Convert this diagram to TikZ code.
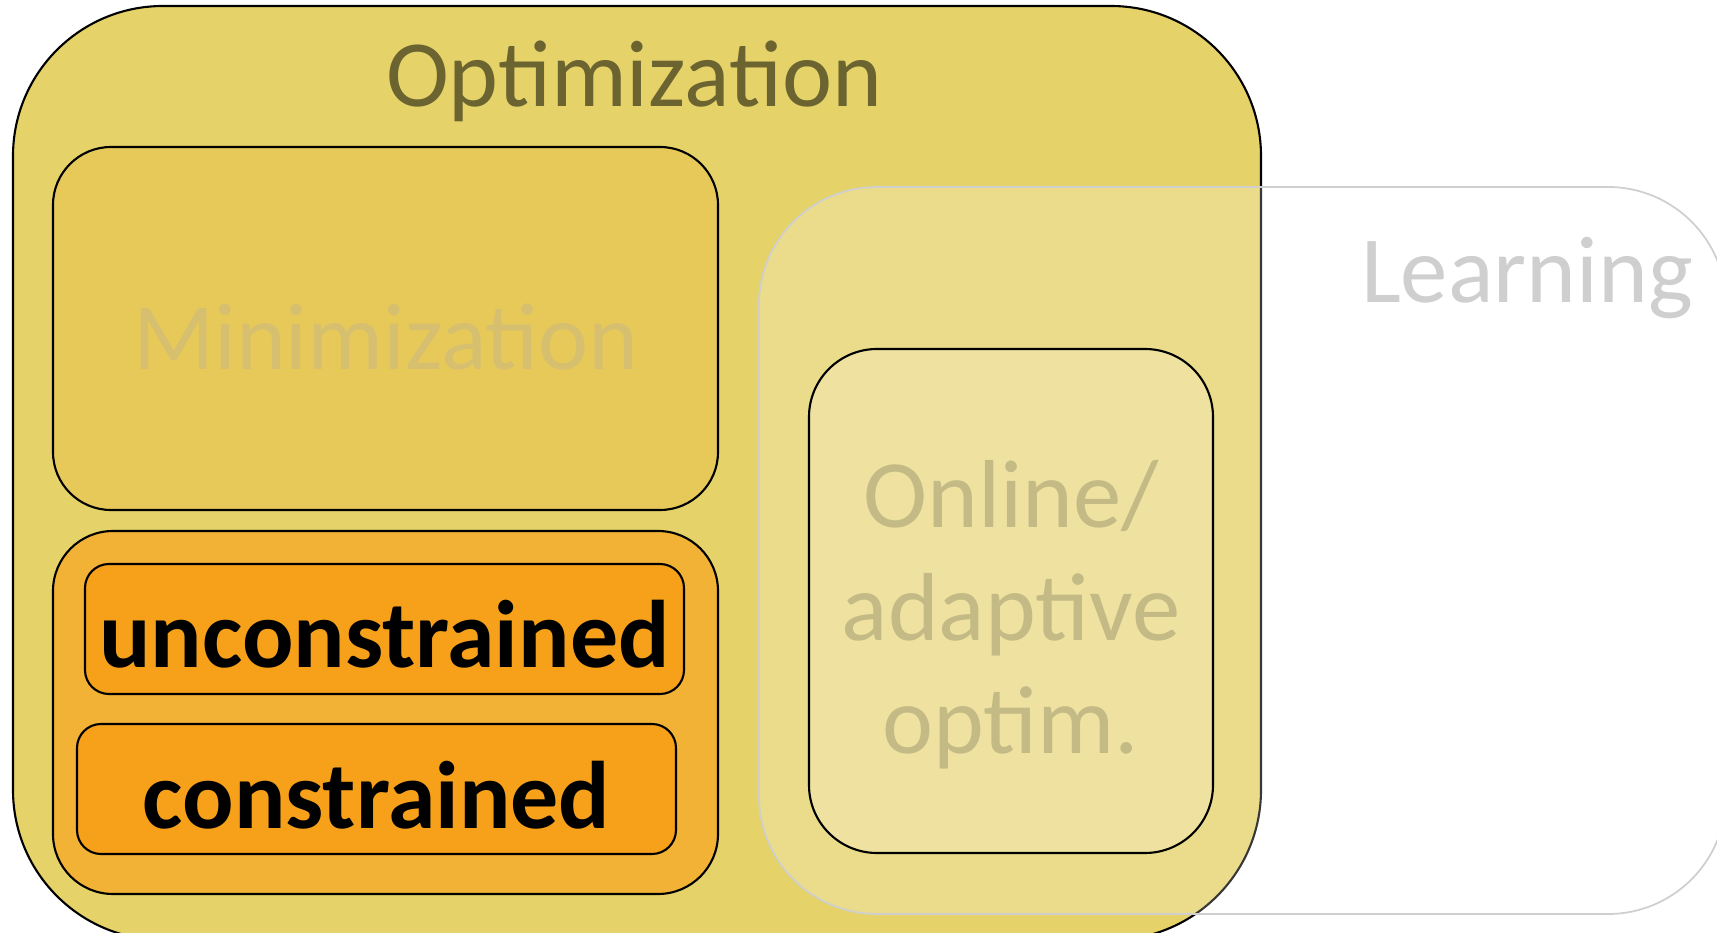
\documentclass[tikz,border=0pt]{standalone}
\usepackage{fontspec}
\setmainfont{Carlito}
\usepackage{tikz}
\usepackage{xcolor}
\usetikzlibrary{positioning}
\definecolor{OptFill}{HTML}{E5D36A}
\definecolor{OptText}{HTML}{6B6431}
\definecolor{MinFill}{HTML}{E7C95A}
\definecolor{MinText}{HTML}{D6C070}
\definecolor{CstOuter}{HTML}{F2B235}
\definecolor{CstInner}{HTML}{F7A11B}
\definecolor{LearnGray}{HTML}{CFCFCF}
\definecolor{OnlFill}{HTML}{EFE2A0}
\definecolor{OnlText}{HTML}{C4BA86}

\begin{document}
\begin{tikzpicture}[scale=1.0]
    \useasboundingbox (0,0) rectangle (17.17,-9.33);
    \clip (0,0) rectangle (17.17,-9.33);

    % Optimization (outer set)
    \draw[draw=black, line width=0.6pt, fill=OptFill, rounded corners=1.5cm] (0.13,-0.06) rectangle (12.61,-9.40);
    \node[anchor=base, OptText, font=\fontsize{27pt}{32pt}\selectfont] (opt) at (6.34,-1.07) {Optimization};

    % Minimization
    \draw[draw=black, line width=0.6pt, fill=MinFill, rounded corners=0.58cm] (0.53,-1.47) rectangle (7.18,-5.10);
    \node[anchor=base, MinText, font=\fontsize{27pt}{32pt}\selectfont] (mini) at (3.86,-3.70) {Minimization};

    % unconstrained / constrained
    \draw[draw=black, line width=0.6pt, fill=CstOuter, rounded corners=0.6cm] (0.53,-5.31) rectangle (7.18,-8.94);
    \draw[draw=black, line width=0.6pt, fill=CstInner, rounded corners=0.24cm] (0.85,-5.64) rectangle (6.84,-6.94);
    \node[anchor=base, font=\fontsize{27.3pt}{32pt}\selectfont\bfseries] (unc) at (3.845,-6.68) {unconstrained};
    \draw[draw=black, line width=0.6pt, fill=CstInner, rounded corners=0.24cm] (0.77,-7.24) rectangle (6.76,-8.54);
    \node[anchor=base, font=\fontsize{27.3pt}{32pt}\selectfont\bfseries] (con) at (3.765,-8.28) {constrained};

    % Learning (overlapping set, see-through)
    \draw[draw=LearnGray, line width=0.5pt, fill=white, fill opacity=0.22, rounded corners=1.18cm] (7.59,-1.87) rectangle (17.26,-9.14);
    \node[anchor=base, LearnGray, font=\fontsize{27pt}{32pt}\selectfont] (learn) at (15.27,-3.03) {Learning};

    % Online / adaptive optimization (intersection)
    \draw[draw=black, line width=0.6pt, fill=OnlFill, rounded corners=0.68cm] (8.09,-3.49) rectangle (12.13,-8.53);
    \node[align=center, OnlText, font=\fontsize{27.5pt}{32.2pt}\selectfont] (onl) at (10.11,-6.15) {Online/\\adaptive\\optim.};
\end{tikzpicture}
\end{document}
